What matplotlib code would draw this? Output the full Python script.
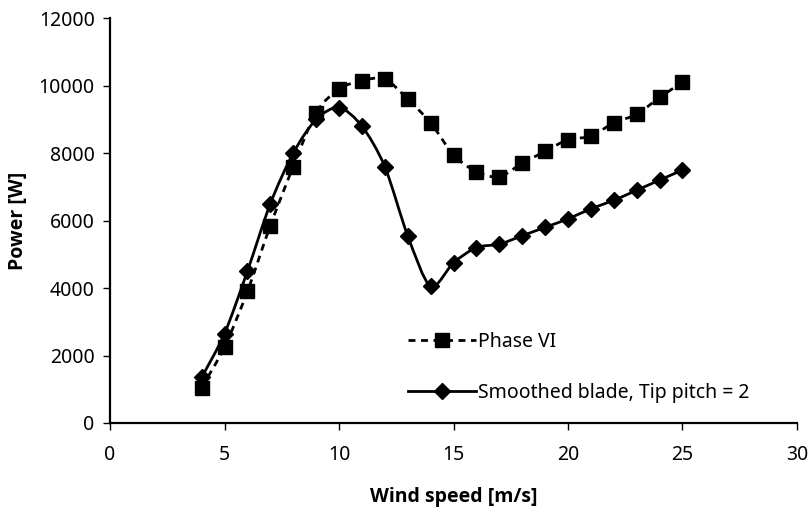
import matplotlib
matplotlib.use('Agg')
import matplotlib.pyplot as plt
import numpy as np
from matplotlib.path import Path
from matplotlib.patches import PathPatch
from matplotlib.lines import Line2D

# data
wind = [4, 5, 6, 7, 8, 9, 10, 11, 12, 13, 14, 15, 16, 17, 18, 19, 20, 21, 22, 23, 24, 25]
phase6 = [1050, 2250, 3900, 5850, 7600, 9200, 9900, 10150, 10200, 9600, 8900, 7950,
          7450, 7300, 7700, 8050, 8400, 8500, 8900, 9150, 9650, 10100]
smoothed = [1350, 2650, 4500, 6500, 8000, 9000, 9350, 8800, 7600, 5550, 4050, 4750,
            5200, 5300, 5550, 5800, 6050, 6350, 6600, 6900, 7200, 7500]

xticks = [0, 5, 10, 15, 20, 25, 30]
yticks = [0, 2000, 4000, 6000, 8000, 10000, 12000]

tick_font = 'Noto Sans'
label_font = 'Open Sans'


def smooth_path(x, y, k=7.0):
    # Excel style smoothed line: cubic bezier between points
    P = np.column_stack([x, y]).astype(float)
    n = len(P)
    verts = [P[0]]
    codes = [Path.MOVETO]
    for i in range(n - 1):
        p0 = P[i - 1] if i > 0 else P[i]
        p3 = P[i + 2] if i + 2 < n else P[i + 1]
        c1 = P[i] + (P[i + 1] - p0) / k
        c2 = P[i + 1] - (p3 - P[i]) / k
        verts += [c1, c2, P[i + 1]]
        codes += [Path.CURVE4] * 3
    return Path(verts, codes)


fig = plt.figure(figsize=(8.12, 5.19), dpi=100)
ax = fig.add_axes([0.1355, 0.185, 0.846, 0.780])

dash = (0, (2.5, 2))
ax.add_patch(PathPatch(smooth_path(wind, phase6), fill=False, edgecolor='black',
                       lw=2, linestyle=dash, zorder=2))
ax.add_patch(PathPatch(smooth_path(wind, smoothed), fill=False, edgecolor='black',
                       lw=2, zorder=2))
ax.plot(wind, phase6, linestyle='none', marker='s', ms=10, color='black', zorder=3)
ax.plot(wind, smoothed, linestyle='none', marker='D', ms=8.5, color='black', zorder=3)

ax.set_xlim(0, 30)
ax.set_ylim(0, 12000)
ax.set_xticks(xticks)
ax.set_yticks(yticks)
for s in ['top', 'right']:
    ax.spines[s].set_visible(False)
for s in ['left', 'bottom']:
    ax.spines[s].set_linewidth(1.6)
ax.tick_params(direction='out', length=5, width=1, labelsize=14, pad=11)
ax.tick_params(axis='y', pad=6)
for lab in ax.get_xticklabels() + ax.get_yticklabels():
    lab.set_family(tick_font)

ax.set_xlabel('Wind speed [m/s]', fontsize=14, fontweight='bold', family=label_font, labelpad=16)
ax.set_ylabel('Power [W]', fontsize=14, fontweight='bold', family=label_font, labelpad=8)

handles = [Line2D([], [], color='black', lw=2, linestyle=dash, marker='s', ms=10),
           Line2D([], [], color='black', lw=2, marker='D', ms=8.5)]
fig.legend(handles, ['Phase VI', 'Smoothed blade, Tip pitch = 2'],
           loc='upper left', bbox_to_anchor=(0.49, 0.38), frameon=False,
           numpoints=1, handlelength=3.5, handletextpad=0.1, labelspacing=1.6,
           borderpad=0, prop={'family': tick_font, 'size': 14})

fig.savefig('out.png', dpi=100)
